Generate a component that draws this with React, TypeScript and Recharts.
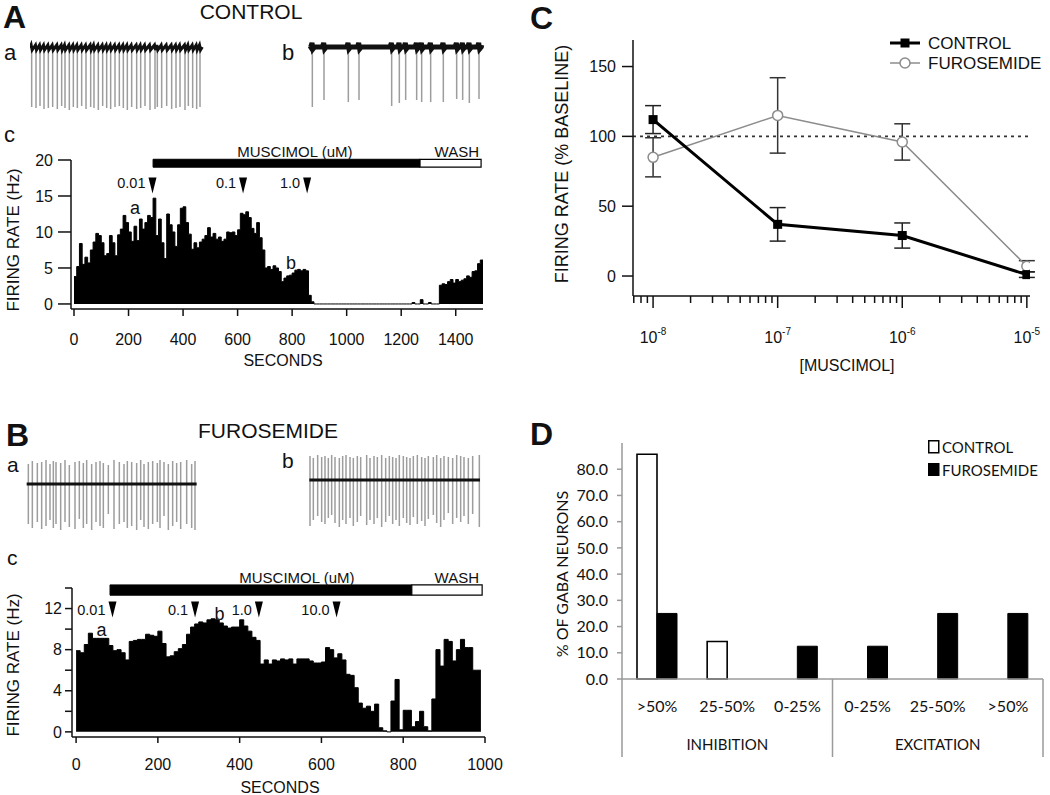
import React from 'react'
import {
  AreaChart, Area, LineChart, Line, BarChart, Bar, XAxis, YAxis,
  ReferenceArea, ReferenceDot, ReferenceLine, ErrorBar, Legend,
} from 'recharts'

const SANS = '"Liberation Sans", Arial, Helvetica, sans-serif'
const CALIBRI = 'Lato, "Noto Sans", sans-serif'
const SPIKE_GRAY = '#9d9d9d'
const AXIS_GRAY = '#9a9a9a'
const INK = '#111'

// ---------- A: control, firing rate histogram (10 s bins) ----------
const binSec = 10
const ctrlRate = [
  3.8, 5.2, 8.4, 5.5, 6.5, 5.7, 7.5, 8.6, 9.8, 9.5,
  8.5, 6.7, 7.0, 9.5, 8.5, 6.7, 9.6, 10.4, 12.3, 11.3,
  10.0, 8.7, 10.8, 8.8, 11.8, 10.4, 11.3, 12.3, 12.0, 14.7,
  9.5, 11.8, 8.5, 6.3, 12.5, 11.0, 10.0, 8.0, 11.0, 13.3,
  13.5, 11.3, 9.7, 7.6, 8.5, 7.8, 8.6, 9.0, 9.5, 10.6,
  9.3, 9.8, 9.0, 9.3, 8.7, 9.0, 10.0, 9.9, 10.0, 9.5,
  10.3, 12.6, 12.4, 12.8, 12.0, 10.5, 9.8, 11.3, 9.2, 7.5,
  5.0, 5.2, 4.8, 5.3, 5.0, 4.5, 3.1, 3.6, 3.9, 4.0,
  4.3, 4.7, 4.8, 4.6, 4.8, 4.6, 1.2, 0.3, 0, 0,
  0, 0, 0, 0, 0, 0, 0, 0, 0, 0,
  0, 0, 0, 0, 0, 0, 0, 0, 0, 0,
  0, 0, 0, 0, 0, 0, 0, 0, 0, 0,
  0, 0, 0, 0, 0.2, 0, 0, 0.6, 0, 0,
  0.2, 0, 0, 0, 2.6, 2.8, 2.7, 3.1, 3.4, 2.9,
  3.4, 3.1, 3.3, 3.5, 3.9, 3.7, 4.5, 4.6, 5.6, 6.1,
]
const ctrlTicks = [0, 200, 400, 600, 800, 1000, 1200, 1400]
const ctrlDoses = [
  { label: '0.01', t: 288 },
  { label: '0.1', t: 620 },
  { label: '1.0', t: 855 },
]
const ctrlMuscimol = [290, 1269]
const ctrlWash = [1269, 1493]

// ---------- B: furosemide, firing rate histogram ----------
const furoRate = [
  7.9, 7.7, 8.5, 9.6, 9.1, 9.1, 9.1, 9.1, 8.4, 7.9,
  8.0, 7.7, 7.0, 8.8, 8.9, 9.0, 9.0, 9.5, 9.4, 9.3,
  9.8, 8.6, 7.3, 7.4, 7.8, 8.1, 8.5, 9.5, 10.2, 10.5,
  10.7, 10.6, 10.9, 11.0, 10.9, 10.6, 10.3, 10.1, 10.2, 10.2,
  10.9, 10.3, 9.8, 9.2, 8.9, 6.6, 7.0, 6.6, 7.0, 6.9,
  7.1, 7.0, 7.1, 6.6, 7.1, 7.1, 7.1, 6.9, 6.7, 6.7,
  6.8, 8.2, 8.0, 7.2, 7.6, 7.0, 5.6, 5.5, 4.3, 2.8,
  2.3, 2.5, 2.0, 2.7, 0.4, 0.1, 0, 3.0, 5.1, 0.2,
  2.1, 2.1, 0.5, 1.0, 2.0, 0.5, 0.1, 3.2, 8.0, 6.4,
  9.0, 8.8, 6.9, 8.0, 9.0, 8.2, 8.2, 6.0, 6.0,
]
const furoTicks = [0, 200, 400, 600, 800, 1000]
const furoYTicks = [0, 2, 4, 6, 8, 10, 12, 14]
const furoDoses = [
  { label: '0.01', t: 89 },
  { label: '0.1', t: 291 },
  { label: '1.0', t: 447 },
  { label: '10.0', t: 637 },
]
const furoMuscimol = [83, 821]
const furoWash = [821, 993]

// ---------- voltage traces (sweep units, depth in px-like units) ----------
const ctrlSpikesA = [0, 13, 25, 37, 50, 63, 77, 90, 100, 113, 125, 137, 150, 163, 177, 187, 200, 213, 225, 237,
  250, 263, 275, 287, 300, 315, 327, 340, 355, 370, 377, 390, 405, 420, 433, 445, 460, 470, 483, 495, 505]
const ctrlTroughA = [59, 60, 58, 61, 60, 59, 61, 58, 60, 62, 59, 60, 58, 61, 59, 60, 62, 58, 60, 61,
  59, 58, 60, 62, 59, 61, 60, 58, 62, 61, 59, 60, 58, 61, 60, 59, 62, 58, 60, 61, 59]
const ctrlSpikesB = [7, 42, 115, 147, 245, 268, 287, 320, 335, 362, 400, 440, 458, 478, 507]
const ctrlTroughB = [60, 53, 55, 53, 59, 56, 53, 53, 55, 55, 55, 52, 53, 56, 52]
const furoSpikesA = [5, 17, 32, 45, 58, 70, 80, 88, 102, 115, 128, 145, 158, 170, 180, 195, 208, 220, 230, 245,
  262, 278, 292, 302, 315, 330, 342, 352, 365, 378, 392, 400, 412, 425, 438, 450, 462, 480, 495, 505]
const furoPeakA = [20, 23, 21, 22, 24, 20, 23, 22, 21, 24, 19, 22, 23, 21, 24, 20, 22, 23, 21, 19,
  24, 22, 20, 23, 22, 21, 24, 20, 22, 23, 21, 24, 22, 20, 23, 21, 22, 24, 20, 23]
const furoTroughA = [40, 44, 38, 45, 42, 36, 44, 40, 46, 38, 43, 45, 35, 44, 40, 46, 38, 42, 44, 30,
  45, 40, 38, 44, 42, 46, 36, 43, 45, 40, 38, 44, 32, 46, 42, 38, 45, 40, 44, 46]
const furoSpikesB = [2, 12, 25, 37, 47, 57, 67, 77, 90, 100, 110, 122, 132, 144, 154, 172, 182, 194, 204, 217,
  229, 240, 250, 260, 270, 282, 292, 302, 312, 324, 337, 347, 357, 372, 382, 394, 404, 417, 430, 442,
  454, 464, 477, 490, 510]
const furoPeakB = [24, 22, 25, 23, 24, 22, 25, 23, 22, 24, 25, 23, 22, 24, 23, 25, 22, 24, 23, 25,
  22, 24, 23, 22, 25, 24, 23, 22, 24, 25, 23, 22, 24, 23, 25, 22, 24, 23, 22, 25, 24, 23, 22, 24, 25]
const furoTroughB = [46, 40, 36, 42, 44, 38, 35, 43, 47, 40, 44, 38, 46, 42, 36, 45, 40, 44, 38, 47,
  42, 36, 44, 40, 46, 38, 43, 45, 37, 44, 41, 46, 39, 35, 43, 47, 40, 33, 44, 38, 42, 36, 44, 34, 47]

// ---------- C: dose response ----------
const muscimolConc = [1e-8, 1e-7, 1e-6, 1e-5]
const ctrlPct = [112, 37, 29, 1]
const ctrlSem = [10, 12, 9, 2]
const furoPct = [85, 115, 96, 7]
const furoSem = [14, 27, 13, 4]
const decades = [-9, -8, -7, -6, -5]
const mantissas = [1, 2, 3, 4, 5, 6, 7, 8, 9]

// ---------- D: response distribution ----------
const responseCats = ['>50%', '25-50%', '0-25%', '0-25%', '25-50%', '>50%']
const responseGroups = ['INHIBITION', 'EXCITATION']
const ctrlShare = [85.7, 14.3, 0, 0, 0, 0]
const furoShare = [25.0, 0, 12.5, 12.5, 25.0, 25.0]
const shareTicks = [0, 10, 20, 30, 40, 50, 60, 70, 80]

// ---------- helpers ----------
const toHist = (rates: number[]) => {
  const pts = rates.map((r, i) => ({ t: i * binSec, rate: r }))
  pts.push({ t: rates.length * binSec, rate: rates[rates.length - 1] })
  return pts
}

const spikeLine = (times: number[], troughs: number[], peaks?: number[]) => {
  const pts: { t: number; v: number }[] = []
  times.forEach((t, i) => {
    pts.push({ t, v: 0 })
    if (peaks) pts.push({ t, v: peaks[i] })
    pts.push({ t, v: -troughs[i] })
    pts.push({ t, v: 0 })
  })
  return pts
}

// pacemaker ramp between closely spaced spikes (control sweep a)
const rampLine = (times: number[], end: number, up: number, down: number) => {
  const pts: { t: number; v: number }[] = [{ t: times[0] - 5, v: 0 }]
  times.forEach((t) => {
    pts.push({ t: t - 1.5, v: up })
    pts.push({ t: t + 1.5, v: down })
  })
  pts.push({ t: end, v: 1 })
  return pts
}

// short bump at each spike, flat otherwise (control sweep b)
const bumpLine = (times: number[], start: number, end: number) => {
  const pts: { t: number; v: number }[] = [{ t: start, v: 1 }]
  times.forEach((t) => {
    pts.push({ t: t - 5, v: 0 })
    pts.push({ t: t - 1, v: 4 })
    pts.push({ t: t + 2, v: -2 })
    pts.push({ t: t + 7, v: 0 })
  })
  pts.push({ t: end, v: 2 })
  return pts
}

const flatLine = (start: number, end: number) => [{ t: start, v: 0 }, { t: end, v: 0 }]

function Trace({ left, top, width, height, xDomain, yDomain, spikes, base, baseWidth }: any) {
  return (
    <div style={{ position: 'absolute', left, top }}>
      <LineChart width={width} height={height} margin={{ top: 0, right: 0, bottom: 0, left: 0 }}>
        <XAxis type="number" dataKey="t" domain={xDomain} hide allowDataOverflow />
        <YAxis type="number" domain={yDomain} hide allowDataOverflow />
        <Line data={spikes} dataKey="v" stroke={SPIKE_GRAY} strokeWidth={1.5} dot={false} activeDot={false}
          isAnimationActive={false} />
        <Line data={base} dataKey="v" stroke={INK} strokeWidth={baseWidth} dot={false} activeDot={false}
          isAnimationActive={false} />
      </LineChart>
    </div>
  )
}

const DoseArrow = ({ cx, cy, label, textDy }: any) => (
  <g>
    <polygon points={`${cx - 4},${cy - 8} ${cx + 4},${cy - 8} ${cx},${cy + 8}`} fill="#000" />
    <text x={cx - 7} y={cy + textDy} textAnchor="end" fontSize={14.5} fontFamily={SANS} fill={INK}>{label}</text>
  </g>
)

const TextMark = ({ cx, cy, text, size }: any) => (
  <text x={cx} y={cy} textAnchor="middle" dominantBaseline="central" fontSize={size} fontFamily={SANS} fill={INK}>
    {text}
  </text>
)

function RateHistogram(props: any) {
  const {
    left, top, width, margin, rates, xDomain, xTicks, yDomain, yTicks, yFmt, yTickSize, yTickMargin,
    xTickSize, xTickMargin, muscimol, wash, barY, labelY, doses, doseY, textDy, marks,
  } = props
  const axisStyle = { stroke: INK, strokeWidth: 1.5 }
  return (
    <div style={{ position: 'absolute', left, top }}>
      <AreaChart width={width} height={235} data={toHist(rates)} margin={margin}>
        <XAxis type="number" dataKey="t" domain={xDomain} ticks={xTicks} allowDataOverflow interval={0}
          tickSize={xTickSize} tickMargin={xTickMargin} height={40} axisLine={axisStyle} tickLine={axisStyle}
          tick={{ fill: INK, fontSize: 16, fontFamily: SANS }} />
        <YAxis type="number" domain={yDomain} ticks={yTicks} allowDataOverflow interval={0} width={60}
          tickSize={yTickSize} tickMargin={yTickMargin} tickFormatter={yFmt} axisLine={axisStyle} tickLine={axisStyle}
          tick={{ fill: INK, fontSize: 16, fontFamily: SANS }} />
        <Area type="stepAfter" dataKey="rate" baseValue={0} stroke="#000" strokeWidth={1} fill="#000"
          fillOpacity={1} dot={false} activeDot={false} isAnimationActive={false} />
        <ReferenceArea x1={muscimol[0]} x2={muscimol[1]} y1={barY[0]} y2={barY[1]} fill="#000" fillOpacity={1}
          stroke="#000" ifOverflow="visible" />
        <ReferenceArea x1={wash[0]} x2={wash[1]} y1={barY[0]} y2={barY[1]} fill="#fff" fillOpacity={1}
          stroke="#000" strokeWidth={1.2} ifOverflow="visible" />
        <ReferenceDot x={labelY.muscimolT} y={labelY.y} r={0} ifOverflow="visible"
          shape={(p: any) => <TextMark cx={p.cx} cy={p.cy} text="MUSCIMOL (uM)" size={15} />} />
        <ReferenceDot x={labelY.washT} y={labelY.y} r={0} ifOverflow="visible"
          shape={(p: any) => <TextMark cx={p.cx} cy={p.cy} text="WASH" size={15} />} />
        {doses.map((d: any) => (
          <ReferenceDot key={d.label} x={d.t} y={doseY} r={0} ifOverflow="visible"
            shape={(p: any) => <DoseArrow cx={p.cx} cy={p.cy} label={d.label} textDy={textDy} />} />
        ))}
        {marks.map((m: any) => (
          <ReferenceDot key={m.text} x={m.t} y={m.v} r={0} ifOverflow="visible"
            shape={(p: any) => <TextMark cx={p.cx} cy={p.cy} text={m.text} size={18} />} />
        ))}
      </AreaChart>
    </div>
  )
}

const LogTick = (props: any) => {
  const { x, y, payload } = props
  const lg = Math.log10(payload.value)
  const major = Math.abs(lg - Math.round(lg)) < 1e-6
  return (
    <g>
      <line x1={x} y1={y} x2={x} y2={y + (major ? 12 : 7)} stroke={INK} strokeWidth={1.5} />
      {major && (
        <text x={x} y={y + 47} textAnchor="middle" fontSize={16} fontFamily={SANS} fill={INK}>
          10<tspan dy={-8} fontSize={10}>{Math.round(lg)}</tspan>
        </text>
      )}
    </g>
  )
}

const SquareDot = (p: any) => {
  if (p.cx == null || p.cy == null) return <g key={`sq${p.index}`} />
  return <rect key={`sq${p.index}`} x={p.cx - 4.5} y={p.cy - 4.5} width={9} height={9} fill="#000" />
}

const DoseLegend = () => (
  <svg width={158} height={44} style={{ overflow: 'visible', display: 'block' }}>
    <line x1={0} y1={7} x2={30} y2={7} stroke="#000" strokeWidth={3} />
    <rect x={10.5} y={2.5} width={9} height={9} fill="#000" />
    <text x={38} y={13} fontSize={17} fontFamily={SANS} fill={INK}>CONTROL</text>
    <line x1={0} y1={27} x2={30} y2={27} stroke="#8c8c8c" strokeWidth={1.5} />
    <circle cx={15} cy={27} r={5} fill="#fff" stroke="#8c8c8c" strokeWidth={1.5} />
    <text x={38} y={33} fontSize={17} fontFamily={SANS} fill={INK}>FUROSEMIDE</text>
  </svg>
)

function DoseResponse() {
  const data = muscimolConc.map((c, i) => ({
    conc: c, ctrl: ctrlPct[i], ctrlErr: ctrlSem[i], furo: furoPct[i], furoErr: furoSem[i],
  }))
  const ticks = decades.flatMap((e) => mantissas.map((m) => m * Math.pow(10, e)))
    .filter((v) => v >= 6.9e-9 && v <= 1.06e-5)
  const axisStyle = { stroke: INK, strokeWidth: 1.5 }
  return (
    <div style={{ position: 'absolute', left: 540, top: 0 }}>
      <LineChart width={510} height={390} data={data} margin={{ top: 40, right: 20, bottom: 34, left: 33 }}>
        <XAxis type="number" dataKey="conc" scale="log" domain={[6.9e-9, 1.06e-5]} allowDataOverflow ticks={ticks}
          interval={0} height={60} tickSize={0} tickMargin={0} tickLine={false} axisLine={axisStyle}
          tick={<LogTick />} />
        <YAxis type="number" domain={[-14.3, 169]} ticks={[0, 50, 100, 150]} allowDataOverflow width={60}
          tickSize={11} tickMargin={6} axisLine={axisStyle} tickLine={axisStyle}
          tick={{ fill: INK, fontSize: 16, fontFamily: SANS }} />
        <ReferenceLine y={100} stroke="#333" strokeWidth={1.6} strokeDasharray="3 4" />
        <Line dataKey="furo" stroke="#8c8c8c" strokeWidth={1.5} isAnimationActive={false} activeDot={false}
          dot={{ r: 5, fill: '#fff', stroke: '#8c8c8c', strokeWidth: 1.5 }}>
          <ErrorBar dataKey="furoErr" width={8} stroke="#333" strokeWidth={1.5} direction="y" />
        </Line>
        <Line dataKey="ctrl" stroke="#000" strokeWidth={3} isAnimationActive={false} activeDot={false}
          dot={SquareDot}>
          <ErrorBar dataKey="ctrlErr" width={8} stroke="#222" strokeWidth={1.5} direction="y" />
        </Line>
        <Legend layout="vertical" align="center" verticalAlign="middle" content={DoseLegend}
          wrapperStyle={{ left: 350, top: 36, width: 158, height: 44, overflow: 'visible' }} />
      </LineChart>
    </div>
  )
}

const CategoryTick = (props: any) => {
  const { x, y, payload } = props
  const index = payload && payload.index != null ? payload.index : props.index
  const half = payload && payload.offset ? payload.offset : 35
  return (
    <g>
      <text x={x} y={y + 33} textAnchor="middle" fontSize={16} fontFamily={CALIBRI} fill={INK}>
        {responseCats[index]}
      </text>
      {index % 3 === 0 && (
        <line x1={x - half} y1={y} x2={x - half} y2={y + 78} stroke={AXIS_GRAY} strokeWidth={1.5} />
      )}
      {index === responseCats.length - 1 && (
        <line x1={x + half} y1={y} x2={x + half} y2={y + 78} stroke={AXIS_GRAY} strokeWidth={1.5} />
      )}
      {index % 3 === 1 && (
        <text x={x} y={y + 71} textAnchor="middle" fontSize={15} fontFamily={CALIBRI} fill={INK}>
          {responseGroups[Math.floor(index / 3)]}
        </text>
      )}
    </g>
  )
}

const ShareLegend = () => (
  <svg width={118} height={40} style={{ overflow: 'visible', display: 'block' }}>
    <rect x={0.75} y={0.75} width={10} height={12} fill="#fff" stroke="#000" strokeWidth={1.5} />
    <text x={14} y={13} fontSize={15} fontFamily={CALIBRI} fill={INK}>CONTROL</text>
    <rect x={0} y={23} width={11.5} height={13} fill="#000" />
    <text x={14} y={36} fontSize={15} fontFamily={CALIBRI} fill={INK}>FUROSEMIDE</text>
  </svg>
)

function Distribution() {
  const data = responseCats.map((c, i) => ({ key: `${i}:${c}`, ctrl: ctrlShare[i], furo: furoShare[i] }))
  return (
    <div style={{ position: 'absolute', left: 540, top: 390 }}>
      <BarChart width={510} height={405} data={data} margin={{ top: 53, right: 7, bottom: 26, left: 20 }}
        barGap={0} barSize={20}>
        <XAxis dataKey="key" interval={0} height={90} tickSize={0} tickMargin={0} tickLine={false}
          axisLine={{ stroke: AXIS_GRAY, strokeWidth: 1.5 }} tick={<CategoryTick />} />
        <YAxis type="number" domain={[0, 90]} ticks={shareTicks} width={62} interval={0} tickSize={5} tickMargin={9}
          tickFormatter={(v: number) => v.toFixed(1)} axisLine={{ stroke: AXIS_GRAY, strokeWidth: 1.5 }}
          tickLine={{ stroke: AXIS_GRAY, strokeWidth: 1.5 }} tick={{ fill: INK, fontSize: 16, fontFamily: CALIBRI }} />
        <Bar dataKey="ctrl" fill="#fff" stroke="#000" strokeWidth={1.6} isAnimationActive={false} />
        <Bar dataKey="furo" fill="#000" stroke="#000" strokeWidth={1} isAnimationActive={false} />
        <Legend layout="vertical" align="center" verticalAlign="middle" content={ShareLegend}
          wrapperStyle={{ left: 388, top: 50, width: 118, height: 40, overflow: 'visible' }} />
      </BarChart>
    </div>
  )
}

const labels = [
  { x: 3, y: 28, text: 'A', size: 32, bold: true },
  { x: 251, y: 19, text: 'CONTROL', size: 21, anchor: 'middle' },
  { x: 4, y: 60, text: 'a', size: 22 },
  { x: 282, y: 60, text: 'b', size: 22 },
  { x: 4, y: 142, text: 'c', size: 22 },
  { x: 6, y: 446, text: 'B', size: 32, bold: true },
  { x: 268, y: 438, text: 'FUROSEMIDE', size: 21, anchor: 'middle' },
  { x: 7, y: 472, text: 'a', size: 21 },
  { x: 282, y: 468, text: 'b', size: 21 },
  { x: 7, y: 565, text: 'c', size: 21 },
  { x: 530, y: 29, text: 'C', size: 32, bold: true },
  { x: 530, y: 445, text: 'D', size: 32, bold: true },
  { x: 283, y: 366, text: 'SECONDS', size: 16, anchor: 'middle' },
  { x: 280, y: 793, text: 'SECONDS', size: 16, anchor: 'middle' },
  { x: 847, y: 371, text: '[MUSCIMOL]', size: 16, anchor: 'middle' },
]
const sideLabels = [
  { x: 13, y: 240, text: 'FIRING RATE (Hz)', size: 17, font: SANS },
  { x: 13, y: 665, text: 'FIRING RATE (Hz)', size: 17, font: SANS },
  { x: 562, y: 164, text: 'FIRING RATE (% BASELINE)', size: 18, font: SANS },
  { x: 561, y: 574, text: '% OF GABA NEURONS', size: 16, font: CALIBRI },
]

function Overlay() {
  return (
    <svg width={1050} height={795} style={{ position: 'absolute', left: 0, top: 0, pointerEvents: 'none' }}>
      {labels.map((l, i) => (
        <text key={i} x={l.x} y={l.y} fontSize={l.size} fontWeight={l.bold ? 700 : 400}
          textAnchor={(l.anchor as any) || 'start'} fontFamily={SANS} fill={INK}>{l.text}</text>
      ))}
      {sideLabels.map((l, i) => (
        <text key={`s${i}`} x={l.x} y={l.y} fontSize={l.size} fontFamily={l.font} fill={INK} textAnchor="middle"
          dominantBaseline="central" transform={`rotate(-90 ${l.x} ${l.y})`}>{l.text}</text>
      ))}
    </svg>
  )
}

export default function App() {
  return (
    <div style={{ position: 'absolute', left: 0, top: 0, width: 1050, height: 795, background: '#fff', fontFamily: SANS }}>
      <Trace left={30} top={40} width={175} height={72} xDomain={[-5, 520]} yDomain={[-64, 8]}
        spikes={spikeLine(ctrlSpikesA, ctrlTroughA)} base={rampLine(ctrlSpikesA, 512, 3, -2)} baseWidth={3} />
      <Trace left={308} top={32} width={178} height={80} xDomain={[-6, 528]} yDomain={[-65, 15]}
        spikes={spikeLine(ctrlSpikesB, ctrlTroughB)} base={bumpLine(ctrlSpikesB, 0, 515)} baseWidth={5} />
      <Trace left={25} top={455} width={175} height={80} xDomain={[-5, 520]} yDomain={[-51, 29]}
        spikes={spikeLine(furoSpikesA, furoTroughA, furoPeakA)} base={flatLine(0, 510)} baseWidth={3} />
      <Trace left={308} top={452} width={178} height={80} xDomain={[-4, 530]} yDomain={[-52, 28]}
        spikes={spikeLine(furoSpikesB, furoTroughB, furoPeakB)} base={flatLine(0, 512)} baseWidth={3} />

      <RateHistogram left={0} top={140} width={500} margin={{ top: 20, right: 17, bottom: 26, left: 11 }}
        rates={ctrlRate} xDomain={[-11, 1500]} xTicks={ctrlTicks} yDomain={[-0.7, 20]} yTicks={[0, 5, 10, 15, 20]}
        yFmt={(v: number) => `${v}`} yTickSize={13} yTickMargin={5} xTickSize={7} xTickMargin={18}
        muscimol={ctrlMuscimol} wash={ctrlWash} barY={[19.0, 20.1]}
        labelY={{ muscimolT: 810, washT: 1404, y: 21.2 }} doses={ctrlDoses} doseY={16.45} textDy={2}
        marks={[{ text: 'a', t: 224, v: 13.3 }, { text: 'b', t: 796, v: 5.7 }]} />

      <RateHistogram left={0} top={560} width={520} margin={{ top: 28, right: 35, bottom: 18, left: 12 }}
        rates={furoRate} xDomain={[-10, 1000]} xTicks={furoTicks} yDomain={[-0.5, 14]} yTicks={furoYTicks}
        yFmt={(v: number) => (v % 4 === 0 && v < 14 ? `${v}` : '')} yTickSize={7} yTickMargin={3}
        xTickSize={6} xTickMargin={16} muscimol={furoMuscimol} wash={furoWash} barY={[13.3, 14.3]}
        labelY={{ muscimolT: 540, washT: 931, y: 15.0 }} doses={furoDoses} doseY={11.9} textDy={5}
        marks={[{ text: 'a', t: 62, v: 9.9 }, { text: 'b', t: 351, v: 11.5 }]} />

      <DoseResponse />
      <Distribution />
      <Overlay />
    </div>
  )
}
